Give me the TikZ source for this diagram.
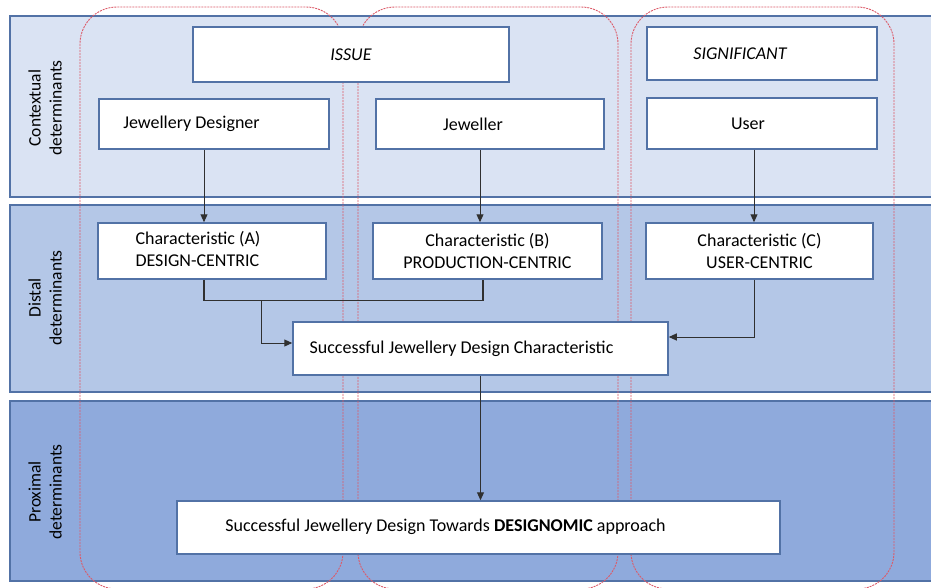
\documentclass[tikz,border=0pt]{standalone}
\usepackage{fontspec}
\setmainfont{Carlito}
\usetikzlibrary{arrows.meta}
\definecolor{bandA}{HTML}{DAE3F3}
\definecolor{bandB}{HTML}{B4C7E7}
\definecolor{bandC}{HTML}{8FAADC}
\definecolor{edgeblue}{HTML}{5272A6}
\definecolor{dashred}{HTML}{DC5A68}
\definecolor{conn}{HTML}{303030}
\begin{document}
\begin{tikzpicture}[x=1pt,y=-1pt,
  band/.style={draw=edgeblue, line width=1.2pt},
  group/.style={draw=dashred, line width=0.9pt, dash pattern=on 2pt off 1pt, rounded corners=37pt},
  box/.style={draw=edgeblue, fill=white, line width=1.5pt, inner sep=0pt, font=\fontsize{18}{22}\selectfont, text=black},
  lbl/.style={rotate=90, align=center, font=\fontsize{17.5}{21}\selectfont, text=black},
  arr/.style={draw=conn, line width=1pt, -{Triangle[length=8pt,width=7pt]}},
  ln/.style={draw=conn, line width=1.3pt}]
\useasboundingbox (0,0) rectangle (931,587);
\fill[white] (0,0) rectangle (931,587);
% bands
\draw[band, fill=bandA] (10,16) rectangle (945,197);
\draw[band, fill=bandB] (10,205) rectangle (945,392);
\draw[band, fill=bandC] (10,401) rectangle (945,581);
\node[lbl] (l1) at (45,108) {Contextual\\determinants};
\node[lbl] (l2) at (45,298) {Distal\\determinants};
\node[lbl] (l3) at (45,492) {Proximal\\determinants};
% groups
\draw[group] (80,7) rectangle (343,589);
\draw[group] (358,7) rectangle (618,589);
\draw[group] (631,7) rectangle (894,589);
% boxes
\node[box, minimum width=316pt, minimum height=55pt] (issue) at (351,54.5) {\itshape ISSUE};
\node[box, minimum width=230pt, minimum height=53pt] (sig) at (762,53.5) {\itshape SIGNIFICANT\hspace*{44pt}};
\node[box, minimum width=230pt, minimum height=50pt] (jd) at (214,124) {Jewellery Designer\hspace*{45pt}};
\node[box, minimum width=228pt, minimum height=50pt] (jw) at (490,124) {Jeweller\hspace*{34pt}};
\node[box, minimum width=230pt, minimum height=51pt] (us) at (762,123.5) {User\hspace*{28pt}};
\node[box, minimum width=228pt, minimum height=56pt] (ca) at (212,251) {\begin{tabular}{@{}l@{}}Characteristic (A)\\DESIGN-CENTRIC\end{tabular}\hspace*{28pt}};
\node[box, minimum width=229pt, minimum height=56pt, align=center] (cb) at (487.5,251) {Characteristic (B)\\PRODUCTION-CENTRIC};
\node[box, minimum width=227pt, minimum height=56pt, align=center] (cc) at (759.5,251) {Characteristic (C)\\USER-CENTRIC};
\node[box, minimum width=375pt, minimum height=53pt] (sjd) at (480.5,348.5) {Successful Jewellery Design Characteristic\hspace*{38pt}};
\node[box, minimum width=603pt, minimum height=53pt] (final) at (478.5,527.5) {\raisebox{4pt}{Successful Jewellery Design Towards \textbf{DESIGNOMIC} approach}\hspace*{66pt}};
% connectors
\draw[arr] ([xshift=-10pt]jd.south) -- ([xshift=-10pt]jd.south |- ca.north);
\draw[arr] ([xshift=-10pt]jw.south) -- ([xshift=-10pt]jw.south |- cb.north);
\draw[arr] ([xshift=-8pt]us.south) -- ([xshift=-8pt]us.south |- cc.north);
\coordinate (jn) at (261,300);
\draw[ln] ([xshift=-8pt]ca.south) -- ++(0,21) -| ([xshift=-4.5pt]cb.south);
\draw[arr] (jn) |- ([yshift=5.5pt]sjd.west);
\draw[arr] ([xshift=-5.5pt]cc.south) |- ([yshift=11.5pt]sjd.east);
\draw[arr] (sjd.south) -- (sjd.south |- final.north);
\end{tikzpicture}
\end{document}
